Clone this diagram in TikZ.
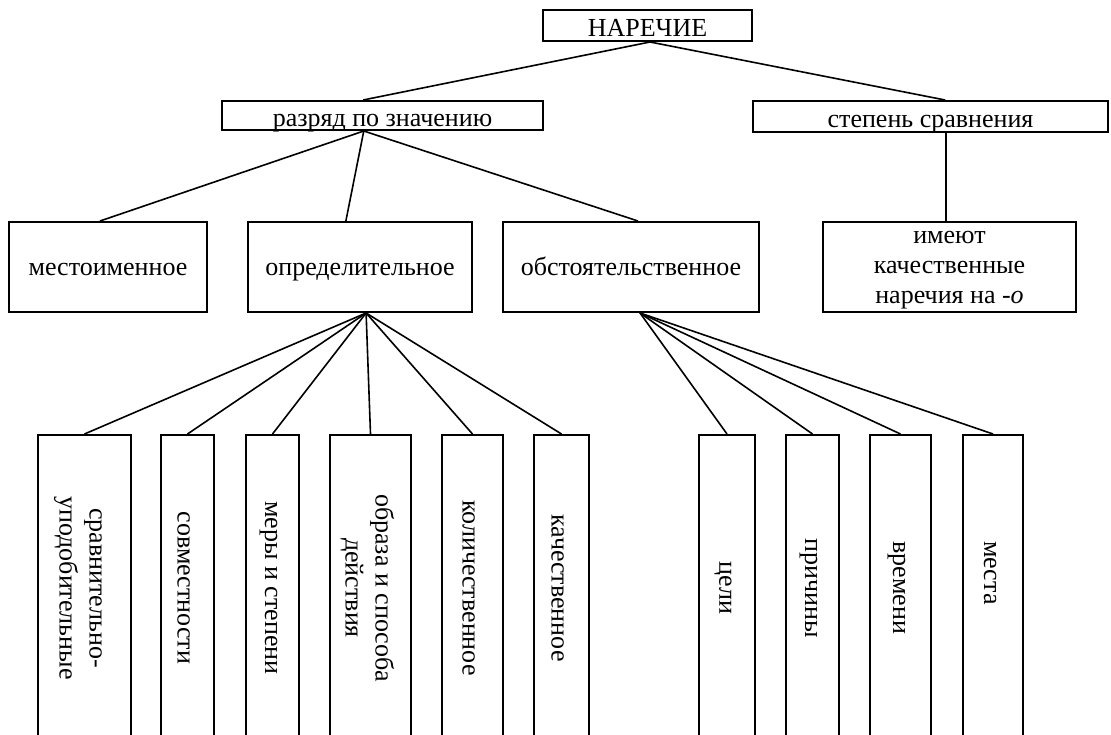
\documentclass[tikz,border=0pt]{standalone}
\usepackage{fontspec}
\setmainfont{Liberation Serif}
\usetikzlibrary{calc}
\newcommand{\vtxt}[1]{\rotatebox{-90}{#1}\hspace{8pt}}
\newcommand{\vtwo}[2]{\rotatebox{-90}{\begin{tabular}{@{}c@{}}#1\\#2\end{tabular}}\hspace{8pt}}
\begin{document}
\begin{tikzpicture}[x=1pt,y=-1pt,
  box/.style={draw, line width=2pt, inner sep=0pt, font=\rmfamily\fontsize{26}{30}\selectfont, align=center},
  toprow/.style={box, text height=22pt, text depth=0pt},
  midrow/.style={box, text height=16pt, text depth=0pt, minimum height=90pt},
  vbox/.style={box, minimum height=306pt},
  conn/.style={line width=1.6pt},
]
\useasboundingbox[fill=white] (0,0) rectangle (1111,734);
% top
\node[toprow, minimum width=209pt, minimum height=31pt] (nar) at (647.5,25.5) {НАРЕЧИЕ};
\node[toprow, minimum width=321pt, minimum height=29pt] (razr) at (382.5,115.5) {разряд по значению};
\node[toprow, minimum width=355pt, minimum height=31pt] (step) at (930.5,116.5) {степень сравнения};
% middle row
\node[midrow, minimum width=198pt] (mest) at (108,267) {местоименное};
\node[midrow, minimum width=224pt] (opred) at (360,267) {определительное};
\node[midrow, minimum width=256pt] (obst) at (631,267) {обстоятельственное};
\node[box, minimum width=253pt, minimum height=90pt] (imeut) at (949.5,267)
  {\raisebox{-5pt}{\begin{tabular}{@{}c@{}}имеют\\качественные\\наречия на \textit{-о}\end{tabular}}};
% bottom row (boxes run past the lower edge of the picture)
\node[vbox, minimum width=93pt] (b1) at (84.5,588) {\vtwo{сравнительно-}{уподобительные}};
\node[vbox, minimum width=53pt] (b2) at (187.5,588) {\vtxt{совместности}};
\node[vbox, minimum width=53pt] (b3) at (272.5,588) {\vtxt{меры и степени}};
\node[vbox, minimum width=81pt] (b4) at (370.5,588) {\vtwo{образа и способа}{действия}};
\node[vbox, minimum width=61pt] (b5) at (472.5,588) {\vtxt{количественное}};
\node[vbox, minimum width=55pt] (b6) at (561.5,588) {\vtxt{качественное}};
\node[vbox, minimum width=56pt] (b7) at (727,588) {\vtxt{цели}};
\node[vbox, minimum width=53pt] (b8) at (812.5,588) {\vtxt{причины}};
\node[vbox, minimum width=61pt] (b9) at (900.5,588) {\vtxt{времени}};
\node[vbox, minimum width=60pt] (b10) at (993,588) {\rotatebox{-90}{места\hspace{30pt}}\hspace{6pt}};
% connectors
\coordinate (narb) at ($(nar.south west)!0.512!(nar.south east)$);
\coordinate (razrt) at ($(razr.north west)!0.44!(razr.north east)$);
\coordinate (razrb) at ($(razr.south west)!0.442!(razr.south east)$);
\coordinate (stept) at ($(step.north west)!0.541!(step.north east)$);
\coordinate (stepb) at ($(step.south west)!0.544!(step.south east)$);
\coordinate (opredb) at ($(opred.south west)!0.527!(opred.south east)$);
\coordinate (obstb) at ($(obst.south west)!0.535!(obst.south east)$);
\draw[conn] (narb) -- (razrt);
\draw[conn] (narb) -- (stept);
\draw[conn] (razrb) -- ($(mest.north west)!0.46!(mest.north east)$);
\draw[conn] (razrb) -- ($(opred.north west)!0.4375!(opred.north east)$);
\draw[conn] (razrb) -- ($(obst.north west)!0.527!(obst.north east)$);
\draw[conn] (stepb) -- (stepb |- imeut.north);
\foreach \b in {b1,b2,b3,b4,b5,b6} \draw[conn] (opredb) -- (\b.north);
\foreach \b in {b7,b8,b9,b10} \draw[conn] (obstb) -- (\b.north);
\end{tikzpicture}
\end{document}
